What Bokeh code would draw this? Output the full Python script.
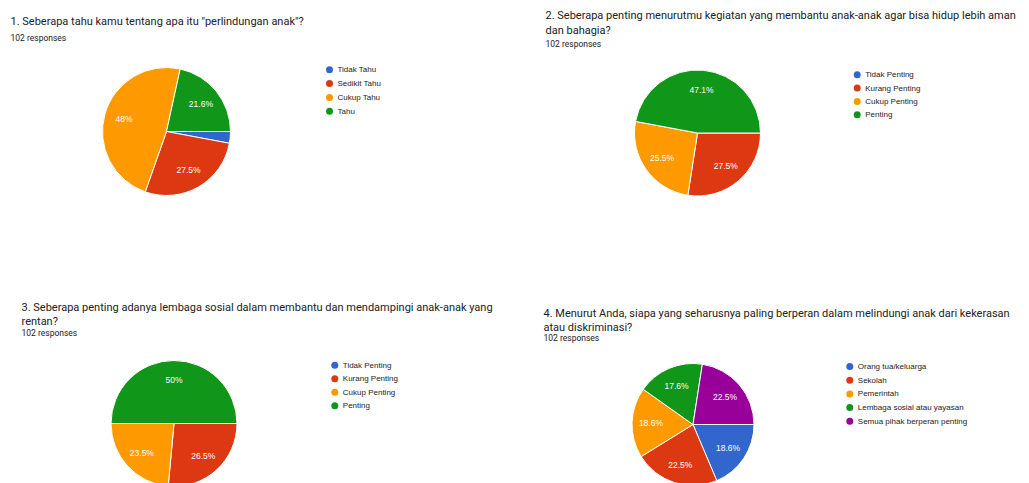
import math
from bokeh.plotting import figure
from bokeh.models import Range1d
from bokeh.core.properties import value
from bokeh.embed import file_html
from bokeh.resources import INLINE

# ---------------- data ----------------
q1_title = ["1. Seberapa tahu kamu tentang apa itu \"perlindungan anak\"?"]
q1_labels = ["Tidak Tahu", "Sedikit Tahu", "Cukup Tahu", "Tahu"]
q1_counts = [3, 28, 49, 22]

q2_title = ["2. Seberapa penting menurutmu kegiatan yang membantu anak-anak agar bisa hidup lebih aman",
            "dan bahagia?"]
q2_labels = ["Tidak Penting", "Kurang Penting", "Cukup Penting", "Penting"]
q2_counts = [0, 28, 26, 48]

q3_title = ["3. Seberapa penting adanya lembaga sosial dalam membantu dan mendampingi anak-anak yang",
            "rentan?"]
q3_labels = ["Tidak Penting", "Kurang Penting", "Cukup Penting", "Penting"]
q3_counts = [0, 27, 24, 51]

q4_title = ["4. Menurut Anda, siapa yang seharusnya paling berperan dalam melindungi anak dari kekerasan",
            "atau diskriminasi?"]
q4_labels = ["Orang tua/keluarga", "Sekolah", "Pemerintah", "Lembaga sosial atau yayasan",
             "Semua pihak berperan penting"]
q4_counts = [19, 23, 19, 18, 23]

responses_text = "102 responses"
colors = ["#3366cc", "#dc3912", "#ff9900", "#109618", "#990099"]

# ---------------- layout (pixel positions) ----------------
W, H = 1029, 483
panels = [
    dict(title=q1_title, labels=q1_labels, counts=q1_counts, tx=10, ty=[21], ry=37.5,
         cx=166, cy=131, r=64, lx=329, ly=69.3, ldy=13.8),
    dict(title=q2_title, labels=q2_labels, counts=q2_counts, tx=545, ty=[15, 29.5], ry=43,
         cx=697, cy=132.5, r=63, lx=856.7, ly=74.3, ldy=13.3),
    dict(title=q3_title, labels=q3_labels, counts=q3_counts, tx=21, ty=[306.5, 321], ry=332,
         cx=173.5, cy=423, r=63, lx=334.3, ly=364.7, ldy=13.5),
    dict(title=q4_title, labels=q4_labels, counts=q4_counts, tx=543, ty=[312.5, 326.5], ry=337,
         cx=692.5, cy=424, r=61, lx=849.3, ly=366, ldy=13.7),
]


def Y(py):
    return H - py


def fmt(pct):
    s = f"{pct:.1f}"
    if s.endswith(".0"):
        s = s[:-2]
    return s + "%"


p = figure(width=W, height=H, output_backend="svg", toolbar_location=None,
           x_range=Range1d(0, W), y_range=Range1d(0, H), min_border=0)
p.axis.visible = False
p.grid.visible = False
p.outline_line_color = None
p.background_fill_color = "white"

for pn in panels:
    counts = pn["counts"]
    total = sum(counts)
    cum = 0.0
    starts, ends, cols = [], [], []
    lab_x, lab_y, lab_t = [], [], []
    for i, c in enumerate(counts):
        f0 = cum / total
        cum += c
        f1 = cum / total
        if c > 0:
            starts.append(-2 * math.pi * f1)
            ends.append(-2 * math.pi * f0)
            cols.append(colors[i])
            frac = c / total
            if frac >= 0.05:
                mid = 2 * math.pi * (f0 + f1) / 2
                lab_x.append(pn["cx"] + 0.69 * pn["r"] * math.cos(mid))
                lab_y.append(Y(pn["cy"] + 0.69 * pn["r"] * math.sin(mid)))
                lab_t.append(fmt(100 * frac))
    n = len(starts)
    p.wedge(x=[pn["cx"]] * n, y=[Y(pn["cy"])] * n, radius=pn["r"], radius_units="screen",
            start_angle=starts, end_angle=ends, fill_color=cols,
            line_color="white", line_width=1)
    p.text(x=lab_x, y=lab_y, text=lab_t, text_color="white",
           text_font=value("Liberation Sans"), text_font_size="8.5px",
           text_align="center", text_baseline="middle")

    # legend
    m = len(pn["labels"])
    ly = [Y(pn["ly"] + k * pn["ldy"]) for k in range(m)]
    p.scatter(x=[pn["lx"]] * m, y=ly, size=7, marker="circle",
              fill_color=colors[:m], line_color=None)
    p.text(x=[pn["lx"] + 8] * m, y=ly, text=pn["labels"], text_color="#222222",
           text_font=value("Liberation Sans"), text_font_size="8px",
           text_baseline="middle")

    # titles
    nt = len(pn["title"])
    p.text(x=[pn["tx"]] * nt, y=[Y(t) for t in pn["ty"]], text=pn["title"],
           text_color="#202124", text_font=value("Roboto"), text_font_size="11px",
           text_baseline="middle")
    p.text(x=[pn["tx"]], y=[Y(pn["ry"])], text=[responses_text],
           text_color="#202124", text_font=value("Roboto"), text_font_size="8.5px",
           text_baseline="middle")

open("out.html", "w").write(file_html(p, INLINE))
